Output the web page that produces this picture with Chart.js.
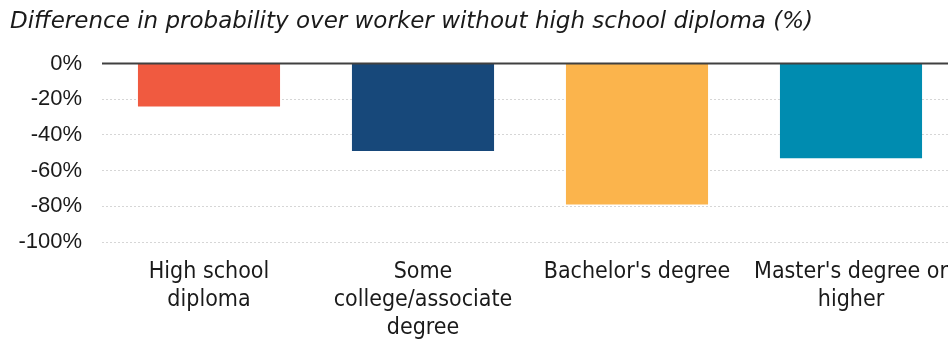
<!DOCTYPE html>
<html>
<head>
<meta charset="utf-8">
<script src="https://cdn.jsdelivr.net/npm/chart.js@4.4.1/dist/chart.umd.min.js"></script>
<style>
  html, body { margin: 0; padding: 0; background: #fff; overflow: hidden; }
  #wrap { width: 962px; height: 342px; }
</style>
</head>
<body>
<div id="wrap"><canvas id="eduChart"></canvas></div>
<script>
// education levels vs. no high school diploma
const categories = [
    ['High school', 'diploma'],
    ['Some', 'college/associate', 'degree'],
    "Bachelor's degree",
    ["Master's degree or", 'higher']
];
const probDiff = [-24, -49, -79, -53];
const barColors = ['#F05A40', '#17487A', '#FBB44C', '#008CB0'];
const yTicks = [0, -20, -40, -60, -80, -100];

// solid line at 0%, drawn over the top edge of the bars
const zeroLine = {
    id: 'zeroLine',
    afterDatasetsDraw: function(chart) {
        const y = chart.scales.y.getPixelForValue(0);
        const ctx = chart.ctx;
        ctx.save();
        ctx.strokeStyle = '#404040';
        ctx.lineWidth = 2;
        ctx.beginPath();
        ctx.moveTo(chart.chartArea.left, y);
        ctx.lineTo(chart.chartArea.right, y);
        ctx.stroke();
        ctx.restore();
    }
};

const ctx = document.getElementById('eduChart');
new Chart(ctx, {
    type: 'bar',
    data: {
        labels: categories,
        datasets: [{
            data: probDiff,
            backgroundColor: barColors,
            borderWidth: 0,
            categoryPercentage: 1,
            barPercentage: 0.664
        }]
    },
    plugins: [zeroLine],
    options: {
        responsive: true,
        maintainAspectRatio: false,
        animation: false,
        layout: { padding: { left: 10, right: 4, top: 0, bottom: 0 } },
        plugins: {
            legend: { display: false },
            tooltip: { enabled: false },
            title: {
                display: true,
                text: 'Difference in probability over worker without high school diploma (%)',
                align: 'start',
                color: '#1a1a1a',
                font: { family: 'DejaVu Sans', size: 23, style: 'italic', weight: 'normal', lineHeight: 1.2 },
                padding: { top: 8, bottom: 28 }
            }
        },
        scales: {
            x: {
                afterFit: function(scale) { scale.height = 100; },
                grid: { display: false },
                border: { display: false },
                ticks: {
                    color: '#1a1a1a',
                    padding: 8,
                    maxRotation: 0,
                    autoSkip: false,
                    font: { family: 'DejaVu Sans Condensed', size: 23, lineHeight: '28px' }
                }
            },
            y: {
                min: -100,
                max: 0,
                afterFit: function(scale) { scale.width = 92; },
                afterBuildTicks: function(scale) {
                    scale.ticks = yTicks.map(v => ({ value: v }));
                },
                grid: {
                    drawTicks: false,
                    color: c => c.tick && c.tick.value === 0 ? 'rgba(0,0,0,0)' : '#d6d6d6',
                    lineWidth: 1
                },
                border: { display: false, dash: [2, 2] },
                ticks: {
                    color: '#1a1a1a',
                    padding: 20,
                    font: { family: 'Liberation Sans', size: 22 },
                    callback: v => v + '%'
                }
            }
        }
    }
});
</script>
</body>
</html>
